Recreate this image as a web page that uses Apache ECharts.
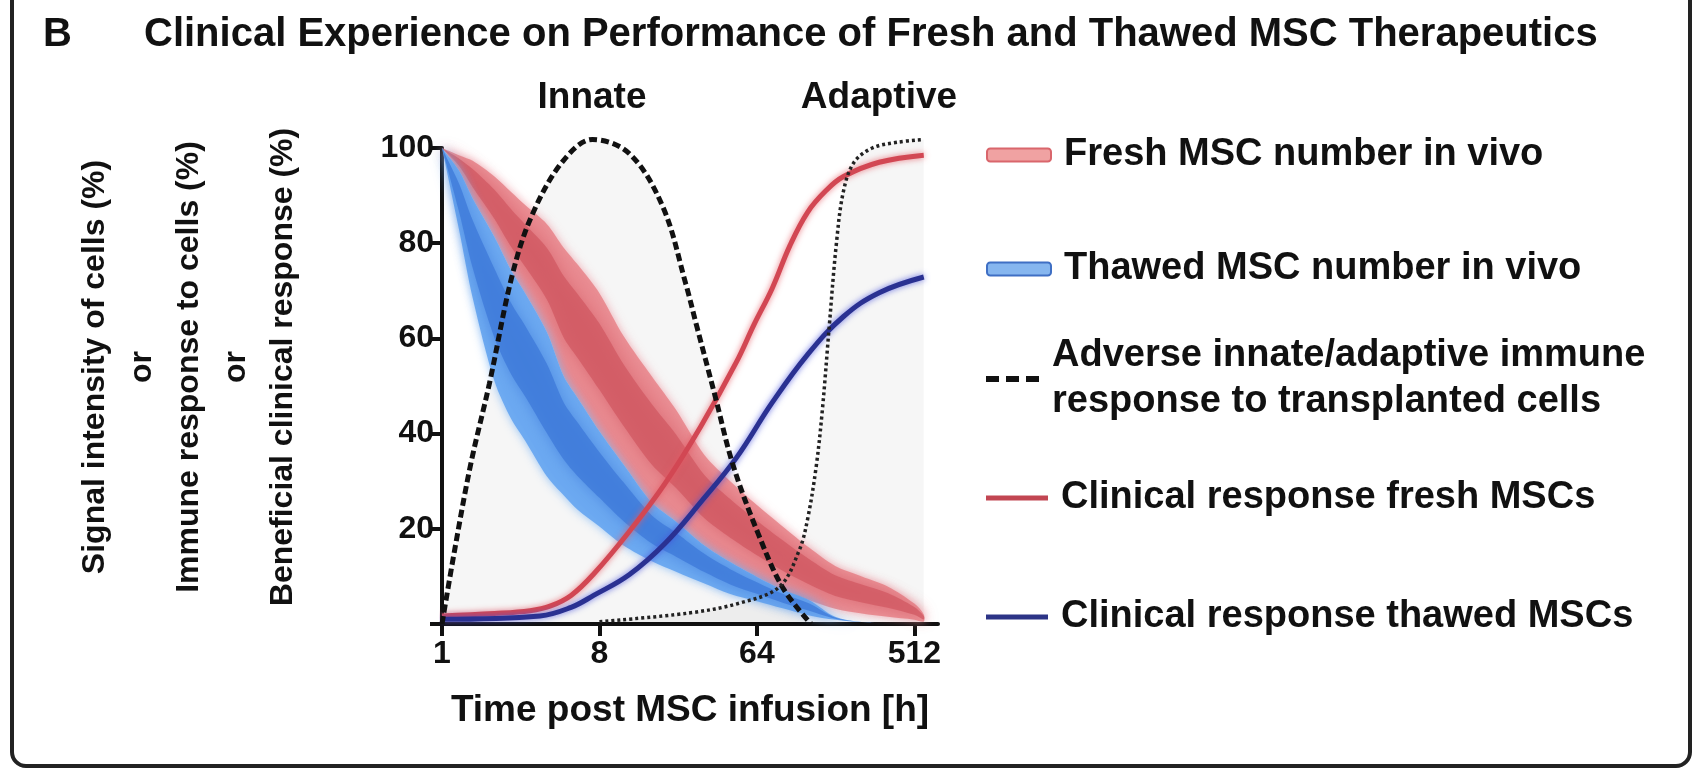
<!DOCTYPE html>
<html>
<head>
<meta charset="utf-8" />
<title>Fresh and Thawed MSC Therapeutics</title>
<script src="https://cdn.jsdelivr.net/npm/echarts@6.0.0/dist/echarts.min.js"></script>
<style>
  html, body { margin: 0; padding: 0; background: #fff; }
</style>
</head>
<body>
<div id="main" style="width:1701px;height:773px;"></div>
<script type="text/javascript">
// time points (h) where the two cell-number bands were read
var bandHours = [1, 1.25, 1.5, 2, 2.5, 3, 4, 5, 6, 8, 11, 16, 22, 32, 45, 64, 90, 128, 180, 256, 360, 512, 580];
// fresh MSC number in vivo: upper and lower edge of the band (%)
var freshUpper = [100, 98.5, 97.3, 94, 90.7, 88, 84, 79, 75.5, 69.5, 60.5, 52, 45, 35.5, 30, 25, 20.5, 16, 12.2, 10, 7.9, 4.3, 2];
var freshLower = [100, 95.3, 89.4, 81.3, 74.2, 69.5, 61.3, 52, 47.5, 40.5, 33.5, 25.5, 21.5, 16.5, 13, 9.9, 7.2, 5, 3.2, 2.2, 1.5, 0.9, 0.5];
// thawed MSC number in vivo
var thawedUpper = [100, 95.3, 89.4, 81.3, 74.2, 69.5, 61.3, 52, 47.5, 40.5, 33.5, 25.5, 21.5, 16.5, 13, 9.9, 7.2, 5, 1.5, 0.4, 0.2, 0.1, 0.1];
var thawedLower = [100, 83, 68.5, 51, 43, 38.5, 31, 27, 24, 20.5, 16.5, 13.2, 11, 8.5, 6.3, 4.8, 3.3, 1.8, 0.9, 0.4, 0.2, 0.1, 0.1];

// adverse innate response (dashed)
var innateHours = [1, 1.18, 1.46, 1.87, 2.54, 3.31, 4.93, 7.3, 11.9, 18.5, 25, 29, 36.8, 46.6, 64.9, 90.5, 131];
var innateValues = [0, 15.4, 33.5, 50.5, 73.6, 86.2, 97.2, 101.8, 98.8, 87.6, 71.5, 62.4, 48, 33.5, 19.1, 7.5, 0];
// adverse adaptive response (dotted)
var adaptiveHours = [8, 26, 51, 86, 112, 125, 140, 152, 166, 183, 201, 231, 294, 408, 580];
var adaptiveValues = [0.5, 2.3, 4.4, 7.8, 15.5, 22, 33, 45, 62, 80, 91, 97, 100, 101.2, 101.8];

// clinical response lines
var freshClinHours = [1, 2, 3.2, 4.2, 5.5, 7.41, 11.9, 19, 30.5, 48.8, 61.8, 78.3, 99, 125, 159, 201, 322, 580];
var freshClinValues = [1.7, 2.2, 2.8, 3.8, 6, 10.5, 19.5, 29.5, 41.5, 55, 63, 70.5, 79.5, 86.5, 91, 94, 97, 98.5];
var thawedClinHours = [1, 3.65, 5.5, 7.41, 11.9, 19, 30.5, 48.8, 78.3, 125, 201, 322, 580];
var thawedClinValues = [1, 1.7, 3.5, 6, 10.4, 16.9, 25.6, 34.9, 46.5, 56.6, 64.6, 69.6, 72.9];

var xTicks = [1, 8, 64, 512];

var NAME_FRESH = 'Fresh MSC number in vivo';
var NAME_THAWED = 'Thawed MSC number in vivo';
var NAME_ADVERSE = 'Adverse innate/adaptive immune response to transplanted cells';
var NAME_CLIN_FRESH = 'Clinical response fresh MSCs';
var NAME_CLIN_THAWED = 'Clinical response thawed MSCs';

var FONT = "'Liberation Sans', Arial, Helvetica, sans-serif";

function pairs(xs, ys) {
  return xs.map(function (x, i) { return [x, ys[i]]; });
}

// draws a soft band between two edges, lighter outside and darker in the middle
function bandRenderer(upper, lower, outerFill, innerFill, glow) {
  return function (params, api) {
    var up = [], lo = [];
    for (var i = 0; i < bandHours.length; i++) {
      up.push(api.coord([bandHours[i], upper[i]]));
      lo.push(api.coord([bandHours[i], lower[i]]));
    }
    var outer = up.concat(lo.slice().reverse());
    var iu = [], il = [];
    for (var k = 0; k < up.length; k++) {
      var dy = lo[k][1] - up[k][1];
      iu.push([up[k][0], up[k][1] + dy * 0.22]);
      il.push([lo[k][0], lo[k][1] - dy * 0.3]);
    }
    var inner = iu.concat(il.reverse());
    return {
      type: 'group',
      children: [
        { type: 'polygon', shape: { points: outer, smooth: 0.3 },
          style: { fill: outerFill, shadowBlur: 10, shadowColor: glow } },
        { type: 'polygon', shape: { points: inner, smooth: 0.3 },
          style: { fill: innerFill, shadowBlur: 14, shadowColor: innerFill } }
      ]
    };
  };
}

var chart = echarts.init(document.getElementById('main'));

var legendText = { fontSize: 38, fontWeight: 'bold', color: '#111', fontFamily: FONT, lineHeight: 46, padding: [0, 0, 0, 8] };
function legendAt(top, item, w, h) {
  return {
    left: 986, top: top, orient: 'vertical', padding: 0, itemGap: 0,
    itemWidth: w, itemHeight: h, selectedMode: false,
    textStyle: legendText, data: [item],
    formatter: function (name) { return name.replace(' response to', '\nresponse to'); }
  };
}

var option = {
  animation: false,
  backgroundColor: '#fff',
  title: [
    { text: 'B', left: 43, top: 15, padding: 0, textStyle: { fontSize: 40, fontWeight: 'bold', color: '#111', fontFamily: FONT } },
    { text: 'Clinical Experience on Performance of Fresh and Thawed MSC Therapeutics', left: 144, top: 15, padding: 0,
      textStyle: { fontSize: 40, fontWeight: 'bold', color: '#111', fontFamily: FONT } }
  ],
  legend: [
    legendAt(132, { name: NAME_FRESH, icon: 'roundRect', itemStyle: { color: '#f0a2a2', borderColor: '#d9666c', borderWidth: 2 } }, 64, 13),
    legendAt(246, { name: NAME_THAWED, icon: 'roundRect', itemStyle: { color: '#86b6ef', borderColor: '#3f6fc4', borderWidth: 2 } }, 64, 13),
    legendAt(333, { name: NAME_ADVERSE, icon: 'path://M0,0h13v6h-13z M20,0h13v6h-13z M40,0h13v6h-13z', itemStyle: { color: '#111' } }, 53, 6),
    legendAt(475, { name: NAME_CLIN_FRESH, icon: 'rect', itemStyle: { color: '#c24652' } }, 62, 5),
    legendAt(594, { name: NAME_CLIN_THAWED, icon: 'rect', itemStyle: { color: '#2c3486' } }, 62, 5)
  ],
  grid: { left: 442, right: 763, top: 148, bottom: 149 },
  xAxis: {
    type: 'log', logBase: 8, min: 1, max: 700,
    name: 'Time post MSC infusion [h]', nameLocation: 'middle', nameGap: 68,
    nameTextStyle: { fontSize: 37, fontWeight: 'bold', color: '#111', fontFamily: FONT },
    axisLine: { lineStyle: { color: '#111', width: 4 } },
    axisTick: { length: 12, customValues: xTicks, lineStyle: { color: '#111', width: 4 } },
    axisLabel: {
      fontSize: 32, fontWeight: 'bold', color: '#111', fontFamily: FONT, margin: 14,
      customValues: xTicks,
      formatter: function (v) {
        for (var i = 0; i < xTicks.length; i++) {
          if (Math.abs(v - xTicks[i]) < 0.01 * xTicks[i]) return String(xTicks[i]);
        }
        return '';
      }
    },
    splitLine: { show: false }
  },
  yAxis: {
    type: 'value', min: 0, max: 100, interval: 20,
    axisLine: { show: true, lineStyle: { color: '#111', width: 4 } },
    axisTick: { show: true, length: 12, lineStyle: { color: '#111', width: 4 } },
    axisLabel: {
      fontSize: 32, fontWeight: 'bold', color: '#111', fontFamily: FONT, margin: 8,
      formatter: function (v) { return v === 0 ? '' : String(v); }
    },
    splitLine: { show: false }
  },
  graphic: [
    { type: 'text', x: 592, y: 98, style: { text: 'Innate', font: 'bold 37px ' + FONT, fill: '#111', align: 'center', verticalAlign: 'middle' } },
    { type: 'text', x: 879, y: 98, style: { text: 'Adaptive', font: 'bold 37px ' + FONT, fill: '#111', align: 'center', verticalAlign: 'middle' } },
    { type: 'text', x: 189, y: 367, rotation: Math.PI / 2,
      style: { text: 'Signal intensity of cells (%)\nor\nImmune response to cells (%)\nor\nBeneficial clinical response (%)',
        font: 'bold 32px ' + FONT, lineHeight: 47, fill: '#111', align: 'center', verticalAlign: 'middle' } },
    { type: 'rect', shape: { x: 12, y: -30, width: 1678, height: 796, r: 14 },
      style: { fill: 'none', stroke: '#222', lineWidth: 4 } }
  ],
  series: [
    // grey shading under the immune-response curves
    { name: 'innate-fill', type: 'line', smooth: 0.35, symbol: 'none', clip: false, z: 1,
      data: pairs(innateHours, innateValues), lineStyle: { width: 0 }, areaStyle: { color: 'rgba(0,0,0,0.05)' } },
    { name: 'adaptive-fill', type: 'line', smooth: 0.35, symbol: 'none', clip: false, z: 1,
      data: pairs(adaptiveHours, adaptiveValues), lineStyle: { width: 0 }, areaStyle: { color: 'rgba(0,0,0,0.05)' } },
    // cell number bands
    { name: NAME_FRESH, type: 'custom', z: 2, data: [[1, 100]], encode: { x: 0, y: 1 },
      itemStyle: { color: '#f0a2a2' },
      renderItem: bandRenderer(freshUpper, freshLower, 'rgba(232,132,138,0.85)', 'rgba(208,88,98,0.75)', 'rgba(240,150,160,0.9)') },
    { name: NAME_THAWED, type: 'custom', z: 3, data: [[1, 100]], encode: { x: 0, y: 1 },
      itemStyle: { color: '#86b6ef' },
      renderItem: bandRenderer(thawedUpper, thawedLower, 'rgba(105,168,240,0.95)', 'rgba(62,122,218,0.8)', 'rgba(130,185,245,0.9)') },
    // clinical responses
    { name: NAME_CLIN_FRESH, type: 'line', smooth: 0.4, symbol: 'none', z: 4,
      data: pairs(freshClinHours, freshClinValues),
      lineStyle: { color: '#d24753', width: 5, shadowBlur: 6, shadowColor: 'rgba(230,90,100,0.8)' } },
    { name: NAME_CLIN_THAWED, type: 'line', smooth: 0.4, symbol: 'none', z: 4,
      data: pairs(thawedClinHours, thawedClinValues),
      lineStyle: { color: '#2a3192', width: 5, shadowBlur: 6, shadowColor: 'rgba(70,80,220,0.8)' } },
    // adverse immune response lines
    { name: NAME_ADVERSE, type: 'line', smooth: 0.35, symbol: 'none', clip: false, z: 5,
      data: pairs(innateHours, innateValues),
      lineStyle: { color: '#111', width: 5, type: [8, 4] } },
    { name: NAME_ADVERSE, type: 'line', smooth: 0.35, symbol: 'none', clip: false, z: 5,
      data: pairs(adaptiveHours, adaptiveValues),
      lineStyle: { color: '#222', width: 3.5, type: [3, 3] } }
  ]
};

chart.setOption(option);
</script>
</body>
</html>
